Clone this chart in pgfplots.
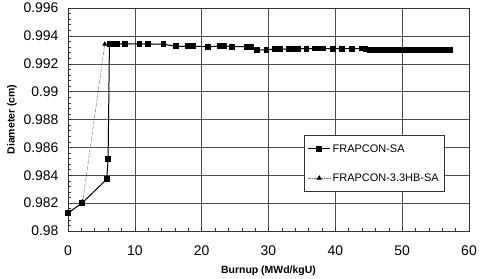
\documentclass[border=0pt]{standalone}
\usepackage{pgfplots}
\pgfplotsset{compat=1.18}
\usepackage{pgfplotstable}
\usepackage{fontspec}
\setmainfont{Liberation Sans}

% Outer cladding diameter versus burnup, two code versions
\pgfplotstableread{
x y
0.0 0.9812
2.2 0.9821
5.5 0.99340
6.4 0.99343
7.0 0.99343
8.5 0.99343
10.7 0.99343
12.0 0.99342
14.3 0.99340
16.2 0.99325
17.9 0.99325
18.7 0.99325
21.0 0.99323
22.8 0.99325
23.4 0.99325
24.5 0.99323
26.7 0.99323
27.4 0.99320
28.3 0.99300
29.7 0.99298
31.0 0.99308
31.7 0.99305
33.0 0.99305
34.5 0.99308
35.7 0.99308
37.0 0.99310
38.2 0.99310
39.7 0.99308
41.0 0.99308
42.5 0.99308
44.0 0.99310
45.2 0.99298
47.0 0.99298
49.0 0.99298
51.0 0.99298
53.0 0.99298
55.0 0.99298
57.0 0.99298
}\hbtable

\pgfplotstableread{
x y
0.0 0.9813
2.1 0.9820
5.8 0.98372
6.0 0.98518
6.2 0.99340
6.5 0.99343
6.9 0.99343
7.3 0.99343
8.5 0.99343
10.7 0.99343
12.0 0.99342
14.3 0.99340
16.2 0.99325
17.9 0.99325
18.7 0.99325
21.0 0.99323
22.8 0.99325
23.4 0.99325
24.5 0.99323
26.7 0.99323
27.4 0.99320
28.3 0.99300
29.7 0.99298
31.0 0.99308
31.4 0.99305
31.7 0.99305
33.0 0.99305
33.7 0.99308
34.5 0.99308
35.7 0.99308
37.0 0.99310
37.6 0.99310
38.2 0.99310
39.7 0.99308
41.0 0.99308
42.5 0.99308
44.0 0.99310
44.5 0.99305
45.2 0.99298
46.0 0.99298
46.8 0.99298
47.6 0.99298
48.4 0.99298
49.2 0.99298
50.0 0.99298
50.8 0.99298
51.6 0.99298
52.4 0.99298
53.2 0.99298
54.0 0.99298
54.8 0.99298
55.6 0.99298
56.4 0.99298
57.2 0.99298
}\satable

\begin{document}
\begin{tikzpicture}
\begin{axis}[
  scale only axis,
  width=401bp, height=223bp,
  xmin=0, xmax=60, ymin=0.98, ymax=0.996,
  xtick={0,10,...,60},
  ytick={0.98,0.982,...,0.996},
  yticklabels={0.98,0.982,0.984,0.986,0.988,0.99,0.992,0.994,0.996},
  minor x tick num=4,
  minor y tick num=4,
  tick align=inside,
  major tick length=4bp, minor tick length=3bp,
  xtick pos=bottom, ytick pos=left,
  grid=major,
  major grid style={black!70, line width=0.5pt},
  axis line style={black!80, line width=0.6pt},
  tick style={black!80, line width=0.5pt},
  /pgf/number format/assume math mode=true,
  ticklabel style={font=\fontsize{14}{15}\selectfont},
  xticklabel style={yshift=-11bp},
  yticklabel style={xshift=-6bp},
  xlabel={\textbf{Burnup (MWd/kgU)}},
  ylabel={\textbf{Diameter (cm)}},
  label style={font=\fontsize{10.5}{12}\selectfont},
  xlabel style={yshift=-4bp},
  ylabel style={yshift=0bp},
  reverse legend,
  legend cell align=left,
  legend style={at={(0.94,0.43)}, anchor=north east,
    draw=black!80, line width=0.5pt,
    font=\fontsize{11}{12}\selectfont,
    row sep=16bp, inner xsep=4bp, inner ysep=7bp},
  legend image code/.code={
    \draw[mark repeat=2, mark phase=2, #1]
      plot coordinates {(0bp,0bp) (11bp,0bp) (22bp,0bp)};
  },
]
\addplot[black!55, line width=0.5pt, dash pattern=on 3pt off 1pt on 0.8pt off 1pt,
  mark=triangle*, mark size=2.4bp, mark options={solid, fill=black, draw=black}]
  table[x=x, y=y] {\hbtable};
\addlegendentry{FRAPCON-3.3HB-SA}
\addplot[black, line width=1pt, mark=square*, mark size=2.4bp,
  mark options={solid, fill=black}]
  table[x=x, y=y] {\satable};
\addlegendentry{FRAPCON-SA}
\end{axis}
\pgfresetboundingbox
\path[use as bounding box] (-68bp,-48bp) rectangle (413bp,231bp);
\end{tikzpicture}
\end{document}
